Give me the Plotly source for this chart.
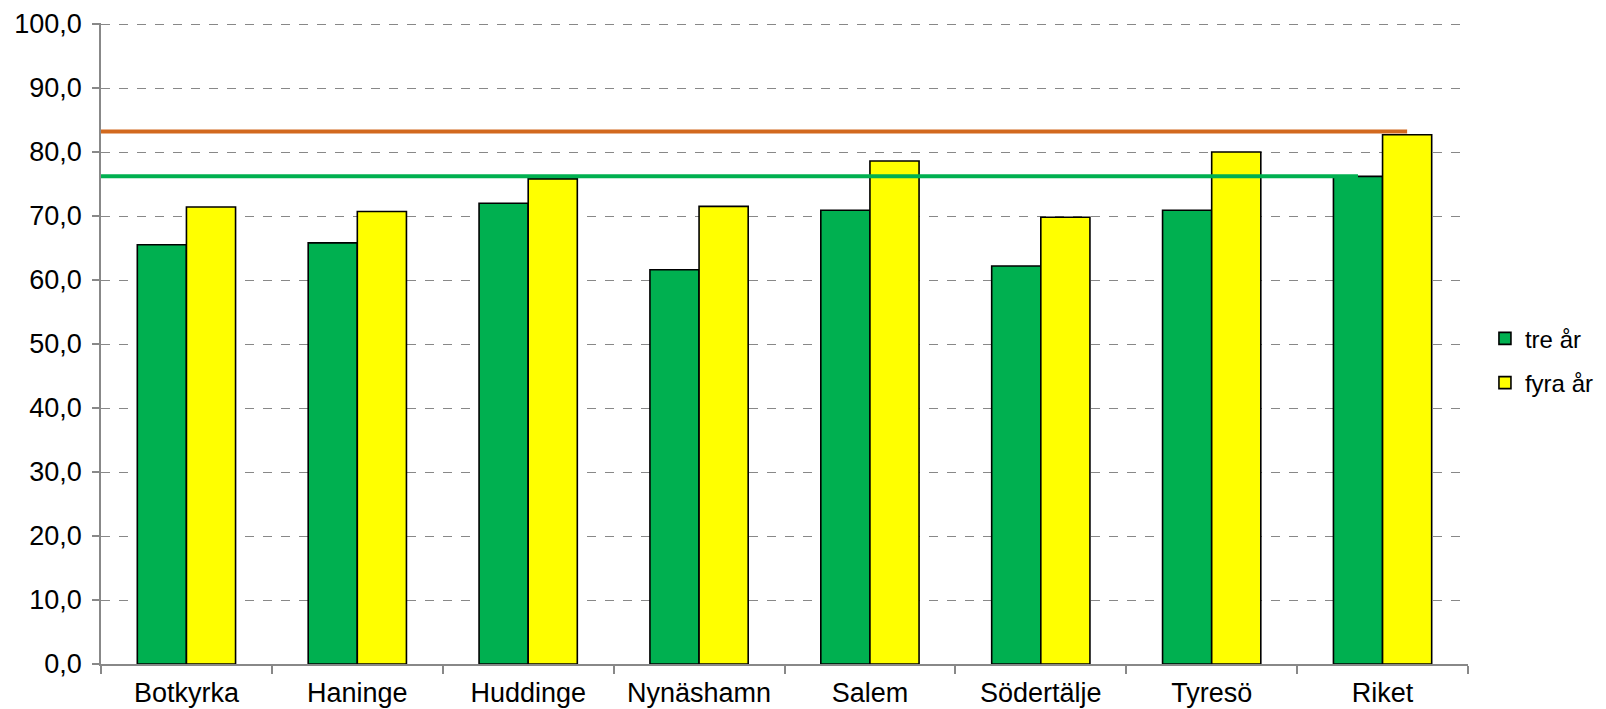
import plotly.graph_objects as go

categories = ["Botkyrka", "Haninge", "Huddinge", "Nynäshamn", "Salem", "Södertälje", "Tyresö", "Riket"]
tre_ar = [65.5, 65.8, 72.0, 61.6, 70.9, 62.2, 70.9, 76.2]
fyra_ar = [71.4, 70.7, 75.8, 71.5, 78.6, 69.8, 80.0, 82.7]
line_tre = 76.2
line_fyra = 83.2
y_ticks = [0, 10, 20, 30, 40, 50, 60, 70, 80, 90, 100]

GREEN = "#00B050"
YELLOW = "#FFFF00"
ORANGE = "#D2691E"
FONT = "Liberation Sans, Arial, sans-serif"
FS = 27

bargap = 0.425
n = len(categories)
half_bar = (1 - bargap) / 4  # centre offset of each bar within group

fig = go.Figure()
fig.add_trace(go.Bar(x=categories, y=tre_ar, name="tre år", legendgroup="a",
                     marker=dict(color=GREEN, line=dict(color="black", width=1.6))))
fig.add_trace(go.Bar(x=categories, y=fyra_ar, name="fyra år", legendgroup="b",
                     marker=dict(color=YELLOW, line=dict(color="black", width=1.6))))

# horizontal reference lines on overlaid linear axis
fig.add_trace(go.Scatter(x=[-0.5, (n - 1) + half_bar], y=[line_fyra, line_fyra], mode="lines",
                         line=dict(color=ORANGE, width=4), xaxis="x2", showlegend=False, hoverinfo="skip"))
fig.add_trace(go.Scatter(x=[-0.5, (n - 1) - half_bar], y=[line_tre, line_tre], mode="lines",
                         line=dict(color=GREEN, width=4), xaxis="x2", showlegend=False, hoverinfo="skip"))

# page body has an 8px default margin, so the figure is 8px smaller and margins shifted
fig.update_layout(
    width=1598, height=701,
    margin=dict(l=93, r=138, t=15, b=45, autoexpand=False),
    plot_bgcolor="white", paper_bgcolor="white",
    barmode="group", bargap=bargap, bargroupgap=0,
    separators=", ",
    font=dict(family=FONT, size=FS, color="black"),
    xaxis=dict(type="category", range=[-0.5, n - 0.5], showline=True, linecolor="#888888", linewidth=1.5,
               ticks="outside", tickson="boundaries", ticklen=8, tickcolor="#888888", tickwidth=1.5,
               ticklabelstandoff=4,
               showgrid=False, tickfont=dict(size=FS, family=FONT), automargin=False),
    xaxis2=dict(overlaying="x", range=[-0.5, n - 0.5], visible=False),
    yaxis=dict(range=[0, 100.16], tickvals=y_ticks, tickformat=".1f", showline=True, linecolor="#888888",
               linewidth=1.5, ticks="outside", ticklen=7, tickcolor="#888888", tickwidth=1.5,
               ticklabelstandoff=5,
               showgrid=True, gridcolor="#888888", griddash="dash", gridwidth=1.3, zeroline=False,
               tickfont=dict(size=FS, family=FONT), automargin=False),
    legend=dict(x=1.0124, y=0.473, xanchor="left", yanchor="middle", font=dict(size=24, family=FONT),
                itemwidth=30, tracegroupgap=10, bgcolor="rgba(0,0,0,0)"),
)

fig.write_html("out.html")
